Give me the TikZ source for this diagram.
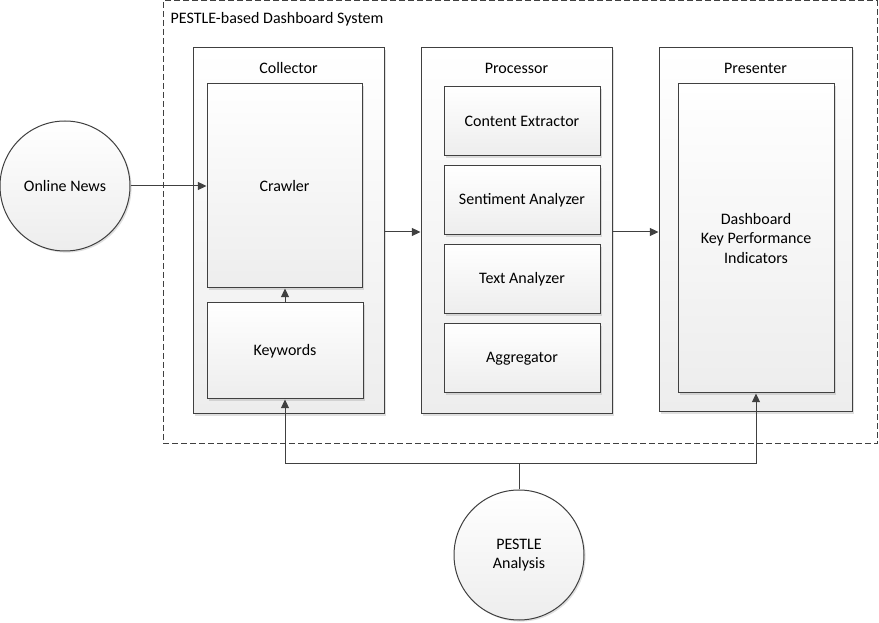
\documentclass[tikz,border=0pt]{standalone}
\usepackage{fontspec}
\setmainfont{Carlito}
\usepackage{tikz}
\usetikzlibrary{positioning,arrows.meta,shadows}
\definecolor{dbline}{HTML}{404040}
\definecolor{dbshade}{HTML}{EDEDED}

\begin{document}
\begin{tikzpicture}[x=0.75pt,y=-0.75pt,font=\fontsize{12}{14.6}\selectfont,
  panel/.style={rectangle,draw=dbline,line width=0.75pt,top color=white,bottom color=dbshade,
    drop shadow={shadow xshift=1.2pt,shadow yshift=-1.2pt,opacity=.25,fill=gray},inner sep=0pt},
  unit/.style={panel,align=center},
  hub/.style={circle,draw=dbline,line width=0.75pt,top color=white,bottom color=dbshade,
    drop shadow={shadow xshift=1.2pt,shadow yshift=-1.2pt,opacity=.25,fill=gray},
    minimum size=97.5pt,inner sep=0pt,align=center},
  flow/.style={-{Triangle[length=6.5pt,width=6pt]},line width=0.75pt,dbline}]
  \useasboundingbox (0,0) rectangle (879,623);
  % system frame
  \node[rectangle,draw=dbline,line width=0.75pt,dash pattern=on 4.5pt off 2.25pt,
    minimum width=535.5pt,minimum height=332.25pt,inner sep=0pt] (sys) at (520,222.5) {};
  \node[anchor=west] (systitle) at (166,19) {PESTLE-based Dashboard System};
  % collector
  \node[panel,minimum width=143.25pt,minimum height=274.5pt] (coll) at (288.5,231) {};
  \node (colltitle) at (288.5,68) {Collector};
  \node[unit,minimum width=116.25pt,minimum height=153pt] (crawler) at (284.5,186) {Crawler};
  \node[unit,minimum width=117pt,minimum height=72pt] (kw) at (285,351) {Keywords};
  % processor
  \node[panel,minimum width=143.25pt,minimum height=274.5pt] (proc) at (516.5,231) {};
  \node (proctitle) at (516.5,68) {Processor};
  \node[unit,minimum width=117pt,minimum height=51.75pt] (extract) at (522,121.5) {Content Extractor};
  \node[unit,minimum width=117pt,minimum height=51.75pt] (senti) at (522,200.5) {Sentiment Analyzer};
  \node[unit,minimum width=117pt,minimum height=51.75pt] (text) at (522,279.5) {Text Analyzer};
  \node[unit,minimum width=117pt,minimum height=51.75pt] (aggr) at (522,358.5) {Aggregator};
  % presenter
  \node[panel,minimum width=144.75pt,minimum height=273pt] (pres) at (755.5,230) {};
  \node (prestitle) at (755.5,68) {Presenter};
  \node[unit,minimum width=117pt,minimum height=231.75pt] (kpi) at (756,238.5) {};
  \node[align=center] (kpitext) at (756,238.5) {Dashboard\\Key Performance\\Indicators};
  % outside sources
  \node[hub] (news) at (65,186) {Online News};
  \node[hub] (pestle) at (519,555) {PESTLE\\Analysis};
  \coordinate (split) at (519,464);
  % connectors
  \draw[flow] (news) -- (crawler.west);
  \draw[flow] (kw.north) -- (kw.north|-crawler.south);
  \draw[flow] (coll.east|-0,232) -- (proc.west|-0,232);
  \draw[flow] (proc.east|-0,232) -- (pres.west|-0,232);
  \draw[line width=0.75pt,dbline] (pestle.north) -- (split);
  \draw[flow] (split) -| (kw.south);
  \draw[flow] (split) -| (kpi.south);
\end{tikzpicture}
\end{document}
